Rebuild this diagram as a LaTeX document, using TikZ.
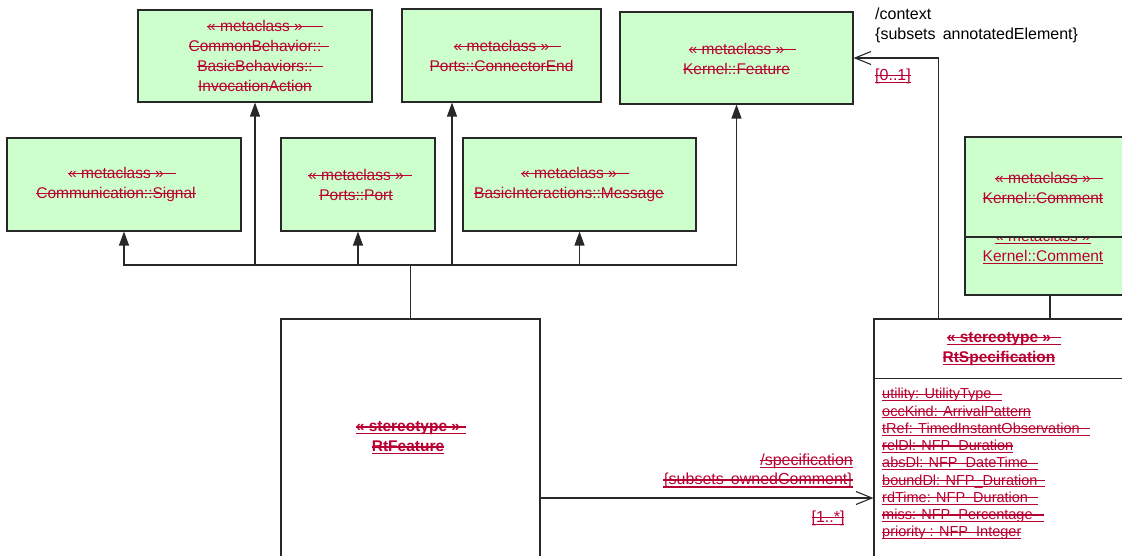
\documentclass[tikz,border=0pt]{standalone}
\usepackage{fontspec}
\setmainfont{Liberation Sans}
\usetikzlibrary{arrows.meta, positioning, calc}

\definecolor{metagreen}{HTML}{CCFFCC}
\definecolor{umlred}{RGB}{185,0,50}
\definecolor{umlline}{RGB}{40,40,40}

% struck / struck+underlined / underlined text, optional arg lengthens the rule
\newcommand{\strk}[2][0pt]{\leavevmode\setbox0=\hbox{#2}%
  \rlap{\rule[0.27em]{\dimexpr\wd0+#1\relax}{0.08em}}\box0}
\newcommand{\strkul}[2][0pt]{\leavevmode\setbox0=\hbox{#2}%
  \rlap{\rule[0.27em]{\dimexpr\wd0+#1\relax}{0.08em}}%
  \rlap{\rule[-0.17em]{\dimexpr\wd0+#1\relax}{0.08em}}\box0}
\newcommand{\undl}[1]{\leavevmode\setbox0=\hbox{#1}%
  \rlap{\rule[-0.17em]{\wd0}{0.08em}}\box0}

\begin{document}
\begin{tikzpicture}[
    x=1pt, y=-1pt,
    metabox/.style={draw=umlline, line width=1.1pt, fill=metagreen, inner sep=0pt},
    umlbox/.style={draw=umlline, line width=1.1pt, fill=white, inner sep=0pt},
    redtxt/.style={text=umlred, inner sep=0pt, align=center,
                   font=\fontsize{15.5}{20}\selectfont},
    attr/.style={text=umlred, inner sep=0pt, align=left,
                 font=\fontsize{14.5}{17.25}\selectfont},
    lbl/.style={inner sep=0pt, font=\fontsize{16}{19.5}\selectfont},
    gen/.style={draw=umlline, line width=1.1pt, -{Triangle[length=14pt, width=10pt]}},
    assoc/.style={draw=umlline, line width=1.1pt, -{Straight Barb[length=16pt, width=13pt]}}
  ]
  \useasboundingbox (0,0) rectangle (1122,556);
  \clip (0,0) rectangle (1122,556);

  % Top row
  \node[metabox, minimum width=234pt, minimum height=92pt] (invoc) at (255,56) {};
  \node[metabox, minimum width=199pt, minimum height=93pt] (connend) at (501.5,55.5) {};
  \node[metabox, minimum width=233pt, minimum height=92pt] (feature) at (736.5,58) {};
  \node[redtxt] (invoc-t) at (255,55.5) {\strk[20pt]{« metaclass »}\\
    \strk[8pt]{CommonBehavior::}\\ \strk[10pt]{BasicBehaviors::}\\ \strk{InvocationAction}};
  \node[redtxt] (connend-t) at (501.5,55.5) {\strk[12pt]{« metaclass »}\\ \strk{Ports::ConnectorEnd}};
  \node[redtxt] (feature-t) at (736.5,58.5) {\strk[12pt]{« metaclass »}\\ \strk{Kernel::Feature}};

  % Second row
  \node[metabox, minimum width=234pt, minimum height=93pt] (signal) at (124,184.5) {};
  \node[metabox, minimum width=154pt, minimum height=93pt] (port) at (358,184.5) {};
  \node[metabox, minimum width=233pt, minimum height=93pt] (message) at (579.5,184.5) {};
  \node[redtxt] (signal-t) at (116,184.5) {\strk[12pt]{« metaclass »}\\ \strk{Communication::Signal}};
  \node[redtxt] (port-t) at (356,184.5) {\strk[8pt]{« metaclass »}\\ \strk{Ports::Port}};
  \node[redtxt] (message-t) at (569,184.5) {\strk[12pt]{« metaclass »}\\ \strk{BasicInteractions::Message}};

  % Comment (two overlapping boxes)
  \node[metabox, minimum width=170pt, minimum height=125pt] (cmtback) at (1050,232.5) {};
  \node[redtxt] (cmtback-t) at (1043,247) {\undl{« metaclass »}\\ \undl{Kernel::Comment}};
  \node[metabox, minimum width=170pt, minimum height=100pt] (cmtfront) at (1050,187) {};
  \node[redtxt] (cmtfront-t) at (1043,187.5) {\strk[12pt]{« metaclass »}\\ \strk{Kernel::Comment}};

  % Stereotypes
  \node[umlbox, minimum width=259pt, minimum height=358pt] (rtfeat) at (410.5,498) {};
  \node[redtxt, font=\fontsize{15.5}{20}\selectfont\bfseries] (rtfeat-t) at (408,438)
    {\strkul[6pt]{« stereotype »}\\ \strkul{RtFeature}};
  \node[umlbox, minimum width=286pt, minimum height=321pt] (rtspec) at (1017,479.5) {};
  \draw[draw=umlline, line width=1.1pt] ([yshift=-60pt]rtspec.north west) -- ([yshift=-60pt]rtspec.north east);
  \node[redtxt, font=\fontsize{15.5}{20}\selectfont\bfseries] (rtspec-t) at (999,349)
    {\strkul[10pt]{« stereotype »}\\ \strkul{RtSpecification}};
  \node[attr, anchor=west] (rtspec-a) at (882,464) {\strkul[10pt]{utility: UtilityType}\\
    \strkul{occKind: ArrivalPattern}\\ \strkul[10pt]{tRef: TimedInstantObservation}\\
    \strkul{relDl: NFP\_Duration}\\ \strkul[10pt]{absDl: NFP\_DateTime}\\
    \strkul[8pt]{boundDl: NFP\_Duration}\\ \strkul[10pt]{rdTime: NFP\_Duration}\\
    \strkul[11pt]{miss: NFP\_Percentage}\\ \strkul{priority : NFP\_Integer}};

  % Generalizations
  \coordinate (hub) at (410.5,265);
  \draw[draw=umlline, line width=1.1pt] (rtfeat.north) -- (hub);
  \foreach \b in {signal, port, message, invoc, feature} {
    \draw[gen] (hub) -| (\b.south);
  }
  \draw[gen] (hub) -| ([xshift=-49.5pt]connend.south);

  % Associations
  \draw[assoc] ([xshift=65pt]rtspec.north west) |- (feature.east);
  \draw[assoc] (rtfeat.east) -- (rtfeat.east -| rtspec.west);
  \draw[draw=umlline, line width=1.1pt] (cmtback.south) -- (cmtback.south |- rtspec.north);

  % Labels
  \node[lbl, anchor=west, align=left] (ctx-lbl) at (875,25.5)
    {/context\\ \{subsets\ \,annotatedElement\}};
  \node[lbl, text=umlred, anchor=west] (ctx-mult) at (875,76) {\strkul{[0..1]}};
  \node[lbl, text=umlred, anchor=east, align=right] (spec-lbl) at (853,471)
    {\strkul{/specification}\\ \strkul{\{subsets\ \,ownedComment\}}};
  \node[lbl, text=umlred] (spec-mult) at (828,518) {\strkul{[1..*]}};
\end{tikzpicture}
\end{document}
